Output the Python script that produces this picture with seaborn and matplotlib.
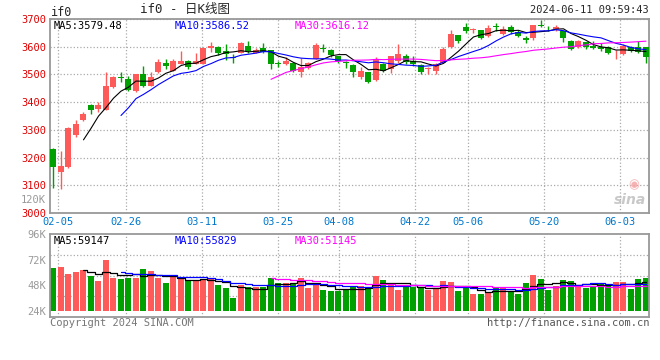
import numpy as np
import pandas as pd
import matplotlib
matplotlib.use('Agg')
import matplotlib.pyplot as plt
import seaborn as sns

# trading days 02-05 .. 06-11 (exchange holidays removed)
holidays = ['2024-02-09', '2024-02-12', '2024-02-13', '2024-02-14', '2024-02-15',
            '2024-02-16', '2024-04-04', '2024-04-05', '2024-05-01', '2024-05-02',
            '2024-05-03', '2024-06-10']
days = pd.bdate_range('2024-02-05', '2024-06-11')
days = days[~days.isin(pd.to_datetime(holidays))]
dates = list(days.strftime('%m-%d'))

opens = [3230, 3147, 3167, 3281, 3335, 3388, 3376, 3373, 3453, 3490,
         3484, 3441, 3501, 3459, 3507, 3543, 3513, 3539, 3548, 3539,
         3539, 3596, 3600, 3585, 3562, 3579, 3602, 3579, 3596, 3588,
         3540, 3539, 3542, 3510, 3522, 3557, 3597, 3589, 3565, 3546,
         3535, 3490, 3508, 3480, 3538, 3520, 3548, 3567, 3550, 3535,
         3520, 3512, 3543, 3600, 3643, 3671, 3659, 3659, 3638, 3675,
         3646, 3670, 3653, 3633, 3630, 3679, 3668, 3664, 3655, 3622,
         3598, 3617, 3602, 3600, 3600, 3576, 3572, 3600, 3600, 3598]
highs = [3236, 3222, 3310, 3334, 3365, 3394, 3401, 3508, 3493, 3508,
         3493, 3503, 3531, 3510, 3556, 3555, 3554, 3585, 3552, 3576,
         3596, 3618, 3602, 3608, 3573, 3616, 3621, 3596, 3614, 3588,
         3548, 3564, 3545, 3560, 3545, 3615, 3609, 3590, 3567, 3550,
         3536, 3528, 3508, 3563, 3540, 3567, 3610, 3575, 3566, 3536,
         3528, 3542, 3600, 3662, 3644, 3685, 3666, 3659, 3678, 3684,
         3675, 3678, 3660, 3640, 3679, 3698, 3676, 3678, 3655, 3624,
         3626, 3617, 3620, 3612, 3604, 3588, 3608, 3602, 3622, 3600]
lows = [3090, 3088, 3162, 3274, 3333, 3358, 3365, 3371, 3451, 3471,
        3441, 3437, 3454, 3457, 3505, 3519, 3512, 3537, 3519, 3536,
        3537, 3582, 3570, 3552, 3543, 3576, 3576, 3576, 3578, 3521,
        3527, 3533, 3509, 3492, 3520, 3554, 3580, 3562, 3540, 3524,
        3492, 3483, 3468, 3477, 3510, 3505, 3540, 3538, 3532, 3502,
        3500, 3503, 3541, 3597, 3615, 3650, 3650, 3628, 3634, 3658,
        3643, 3645, 3635, 3615, 3624, 3670, 3655, 3655, 3618, 3588,
        3594, 3592, 3590, 3585, 3572, 3554, 3570, 3580, 3578, 3540]
closes = [3166, 3170, 3305, 3320, 3359, 3373, 3391, 3459, 3489, 3486,
          3445, 3501, 3457, 3489, 3544, 3531, 3548, 3548, 3527, 3548,
          3594, 3604, 3578, 3572, 3559, 3615, 3584, 3588, 3582, 3539,
          3536, 3548, 3512, 3525, 3541, 3605, 3593, 3571, 3547, 3542,
          3509, 3512, 3474, 3556, 3513, 3565, 3572, 3545, 3536, 3509,
          3525, 3537, 3592, 3645, 3620, 3656, 3663, 3632, 3667, 3671,
          3665, 3653, 3640, 3626, 3677, 3676, 3666, 3672, 3632, 3592,
          3620, 3600, 3594, 3591, 3576, 3579, 3603, 3586, 3582, 3562]
# volume in thousands, read on the chart's own scale
volumes = [64.5, 65.4, 58.6, 60.8, 62.3, 56.7, 52.4, 71.7, 55.2, 53.9,
           55.2, 55.2, 63.3, 61.4, 55.2, 50.5, 55.5, 53.6, 52.0, 53.0,
           53.6, 53.6, 48.3, 45.8, 36.4, 48.3, 46.7, 46.7, 46.7, 55.2,
           49.9, 49.9, 48.9, 55.2, 45.8, 49.2, 43.6, 42.7, 42.7, 44.6,
           47.4, 47.4, 45.2, 56.7, 53.0, 50.5, 43.6, 46.7, 46.7, 45.2,
           43.6, 45.2, 52.0, 51.1, 42.7, 45.8, 39.9, 39.9, 42.1, 45.2,
           45.2, 42.1, 39.9, 50.5, 57.7, 53.9, 43.6, 47.4, 53.0, 52.0,
           47.4, 45.8, 47.4, 50.5, 48.3, 51.1, 51.1, 44.6, 53.9, 55.2]

tick_labels = ['02-05', '02-26', '03-11', '03-25', '04-08', '04-22', '05-06', '05-20', '06-03']
price_ticks = [3000, 3100, 3200, 3300, 3400, 3500, 3600, 3700]
vol_ticks = [24000, 48000, 72000, 96000]
vol_tick_labels = ['24K', '48K', '72K', '96K']

RED = '#ff5a5a'
GREEN = '#00a000'
GRID = '#aaaaaa'
FRAME = '#999999'
FS = 7.5

sns.set_theme(style='white')
plt.rcParams['font.family'] = ['DejaVu Sans Mono', 'Noto Sans CJK SC']
plt.rcParams['font.size'] = FS

df = pd.DataFrame({'o': opens, 'h': highs, 'l': lows, 'c': closes,
                   'v': np.array(volumes) * 1000})
df['i'] = np.arange(len(df))
colors = np.where(df.c >= df.o, RED, GREEN)
for n in (5, 10, 30):
    df[f'ma{n}'] = df.c.rolling(n).mean()
    df[f'vma{n}'] = df.v.rolling(n).mean()

fig = plt.figure(figsize=(6.6, 3.6), dpi=100)
ax = fig.add_axes([50.5 / 660, 1 - 213 / 360, 598.5 / 660, 194 / 360])
axv = fig.add_axes([50.5 / 660, 1 - 317 / 360, 598.5 / 660, 83 / 360])

# candles
ax.vlines(df.i, df.l, df.h, colors=colors, lw=1, zorder=2)
body = (df.c - df.o).abs().clip(lower=2.5)
ax.bar(df.i, body, bottom=df[['o', 'c']].min(axis=1), width=0.8,
       color=colors, linewidth=0, zorder=3)
for col, clr in [('ma5', 'black'), ('ma10', 'blue'), ('ma30', 'magenta')]:
    sns.lineplot(data=df, x='i', y=col, ax=ax, color=clr, lw=0.8, zorder=4)

# volume
vbase = 24000
axv.bar(df.i, df.v - vbase, bottom=vbase, width=0.8, color=colors, linewidth=0, zorder=2)
for col, clr in [('vma5', 'black'), ('vma10', 'blue'), ('vma30', 'magenta')]:
    sns.lineplot(data=df, x='i', y=col, ax=axv, color=clr, lw=0.9, zorder=4,
                 drawstyle='steps-mid')

# the reference's date grid runs a touch wider than its candle spacing
grid_pos = [dates.index(t) * 1.0125 + 0.57 for t in tick_labels]

for a in (ax, axv):
    a.set_xlim(-0.4, 79.4)
    a.set_xlabel('')
    a.set_ylabel('')
    a.set_xticks(grid_pos)
    a.tick_params(which='both', length=0, labelsize=FS)
    for s in a.spines.values():
        s.set_visible(True)
        s.set_color(FRAME)
        s.set_linewidth(1.3)

ax.set_ylim(3000, 3700)
ax.set_yticks(price_ticks)
ax.set_yticklabels([str(p) for p in price_ticks], color='#e00000', fontsize=FS)
ax.set_xticklabels(tick_labels, color='#0077cc', fontsize=FS)
ax.tick_params(axis='y', pad=3.3)
ax.tick_params(axis='x', pad=2.6)
ax.grid(True, ls=':', color=GRID, lw=0.9)

vlo = vbase - 6 / 77 * (96000 - vbase)
axv.set_ylim(vlo, 96000)
axv.set_yticks(vol_ticks)
axv.set_yticklabels(vol_tick_labels, color='#999999', fontsize=FS)
axv.set_yticks(np.linspace(vlo, 96000, 5)[1:-1], minor=True)
axv.set_xticklabels([])
axv.tick_params(axis='y', pad=3.3)
axv.grid(False)
axv.grid(True, which='minor', axis='y', ls=':', color=GRID, lw=0.9)
axv.grid(True, which='major', axis='x', ls=':', color=GRID, lw=0.9)

# texts
fig.text(51 / 660, 1 - 12 / 360, 'if0', ha='left', va='center', fontsize=8.5)
fig.text(185 / 660, 1 - 10 / 360, 'if0 - 日K线图', ha='center', va='center', fontsize=9)
fig.text(649 / 660, 1 - 10 / 360, '2024-06-11 09:59:43', ha='right', va='center')
fig.text(46 / 660, 1 - 200 / 360, '120K', ha='right', va='center', color='#999999')

ax.text(0.005, 0.99, 'MA5:3579.48', transform=ax.transAxes, va='top', color='black')
ax.text(0.208, 0.99, 'MA10:3586.52', transform=ax.transAxes, va='top', color='blue')
ax.text(0.4085, 0.99, 'MA30:3616.12', transform=ax.transAxes, va='top', color='magenta')
axv.text(0.005, 0.98, 'MA5:59147', transform=axv.transAxes, va='top', color='black')
axv.text(0.208, 0.98, 'MA10:55829', transform=axv.transAxes, va='top', color='blue')
axv.text(0.4085, 0.98, 'MA30:51145', transform=axv.transAxes, va='top', color='magenta')

# sina watermark
ax.text(0.975, 0.11, '◉', transform=ax.transAxes, ha='center', va='bottom',
        color='#f4a0a0', fontsize=9, family='DejaVu Sans', alpha=0.8)
ax.text(0.995, 0.03, 'sina', transform=ax.transAxes, ha='right', va='bottom',
        fontstyle='italic', fontweight='bold', color='#bbbbbb', fontsize=10,
        family='DejaVu Sans', alpha=0.8)

fig.text(50 / 660, 1 - 323 / 360, 'Copyright 2024 SINA.COM', ha='left', va='center', color='#777777')
fig.text(649 / 660, 1 - 323 / 360, 'http://finance.sina.com.cn', ha='right', va='center', color='#555555')

fig.savefig('out.png', dpi=100)
